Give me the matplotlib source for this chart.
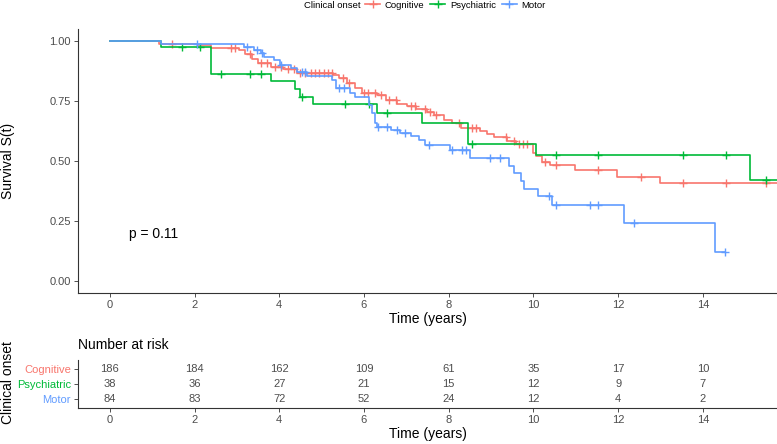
import numpy as np
import matplotlib
matplotlib.use("Agg")
import matplotlib.pyplot as plt
from matplotlib.lines import Line2D

plt.rcParams['font.family'] = ['Liberation Sans', 'DejaVu Sans']

## データ
groups = ["Cognitive", "Psychiatric", "Motor"]
colors = ["#F8766D", "#00BA38", "#619CFF"]

cog_time = [1.16, 2.07, 2.38, 3.05, 3.2, 3.35, 3.5, 3.8, 4.1, 4.43, 5.28, 5.41, 5.6,
            5.8, 5.96, 6.31, 6.51, 6.78, 7.02, 7.22, 7.49, 7.65, 7.89, 8.08, 8.28,
            8.75, 8.91, 9.06, 9.38, 9.58, 9.98, 10.07, 10.2, 10.4, 10.97, 11.97, 12.98]
cog_surv = [0.990, 0.984, 0.973, 0.963, 0.947, 0.928, 0.908, 0.894, 0.883, 0.867, 0.860,
            0.846, 0.825, 0.804, 0.786, 0.776, 0.753, 0.739, 0.728, 0.717, 0.703, 0.693,
            0.672, 0.658, 0.637, 0.626, 0.614, 0.600, 0.585, 0.572, 0.533, 0.522, 0.494,
            0.485, 0.461, 0.435, 0.407]
cog_cens = [1.46, 2.85, 2.95, 3.3, 3.56, 3.7, 3.9, 4.05, 4.2, 4.35, 4.5, 4.6, 4.75, 4.85,
            4.95, 5.05, 5.15, 5.25, 5.5, 5.65, 6.0, 6.1, 6.25, 6.4, 6.6, 6.75, 7.1, 7.2,
            7.45, 7.55, 7.7, 8.25, 8.55, 8.65, 9.35, 9.55, 9.65, 9.75, 9.85, 10.28, 10.54,
            11.52, 12.53, 13.52, 14.54, 15.5]
cog_end = 15.75

psy_time = [1.2, 2.38, 3.8, 4.37, 4.5, 4.79, 6.31, 7.37, 8.46, 10.06, 15.12]
psy_surv = [0.974, 0.865, 0.833, 0.800, 0.768, 0.740, 0.700, 0.658, 0.571, 0.523, 0.420]
psy_cens = [1.7, 2.13, 2.62, 3.32, 3.56, 4.54, 5.55, 6.13, 6.55, 8.54, 10.54, 11.52,
            13.52, 14.54, 15.5]
psy_end = 15.75

mot_time = [1.2, 3.17, 3.4, 3.56, 3.64, 3.87, 4.03, 4.27, 4.43, 4.66, 5.25, 5.33, 5.68,
            5.8, 6.12, 6.19, 6.27, 6.30, 6.63, 6.86, 7.1, 7.3, 7.45, 8.04, 8.51, 9.42,
            9.54, 9.71, 9.77, 10.12, 10.44, 12.13, 14.29]
mot_surv = [0.988, 0.977, 0.964, 0.950, 0.936, 0.922, 0.901, 0.887, 0.873, 0.857, 0.839,
            0.804, 0.783, 0.769, 0.735, 0.700, 0.658, 0.640, 0.630, 0.619, 0.605, 0.589,
            0.568, 0.547, 0.511, 0.478, 0.450, 0.415, 0.383, 0.352, 0.318, 0.239, 0.120]
mot_cens = [2.07, 3.25, 3.48, 3.6, 4.05, 4.54, 4.6, 5.41, 5.53, 6.33, 6.55, 6.78, 6.98,
            7.53, 8.07, 8.32, 8.4, 8.97, 9.2, 10.36, 10.54, 11.34, 11.52, 12.37, 14.53]
mot_end = 14.53

risk_times = [0, 2, 4, 6, 8, 10, 12, 14]
risk_cog = [186, 184, 162, 109, 61, 35, 17, 10]
risk_psy = [38, 36, 27, 21, 15, 12, 9, 7]
risk_mot = [84, 83, 72, 52, 24, 12, 4, 2]

p_text = "p = 0.11"

curves = [(cog_time, cog_surv, cog_cens, cog_end),
          (psy_time, psy_surv, psy_cens, psy_end),
          (mot_time, mot_surv, mot_cens, mot_end)]
risks = [risk_cog, risk_psy, risk_mot]

W, H = 777, 444
axis_col = "#333333"
tick_col = "#4D4D4D"
xlim = (-0.75, 15.75)

fig = plt.figure(figsize=(W / 100, H / 100), dpi=100)

## 生存曲線
ax = fig.add_axes([78 / W, 1 - 292.7 / H, 699 / W, (292.7 - 29.3) / H])
for (t, s, c, end), col in zip(curves, colors):
    xs = np.array([0] + t + [end])
    ys = np.array([1.0] + s + [s[-1]])
    ax.step(xs, ys, where="post", color=col, lw=1.2)
    idx = np.searchsorted(xs, c, side="right") - 1
    ax.plot(c, ys[idx], ls="none", marker="+", ms=6, mew=1.0, color=col)

ax.set_xlim(*xlim)
ax.set_ylim(-0.05, 1.05)
ax.set_xticks(range(0, 15, 2))
ax.set_yticks([0, 0.25, 0.5, 0.75, 1.0])
ax.set_yticklabels(["0.00", "0.25", "0.50", "0.75", "1.00"])
ax.set_xlabel("Time (years)", fontsize=10, labelpad=2)
ax.set_ylabel("Survival S(t)", fontsize=10)
ax.yaxis.set_label_coords((15 - 78) / 699, 0.5)
ax.text(0.45, 0.197, p_text, fontsize=10, ha="left", va="center")

## リスク表
tax = fig.add_axes([78 / W, 1 - 407.7 / H, 699 / W, (407.7 - 360.3) / H])
rows = [3, 2, 1]
for r, vals in zip(rows, risks):
    for t, n in zip(risk_times, vals):
        tax.text(t, r, str(n), ha="center", va="center", fontsize=8, color=tick_col)
tax.set_xlim(*xlim)
tax.set_ylim(0.42, 3.58)
tax.set_xticks(range(0, 15, 2))
tax.set_yticks(rows)
tax.set_yticklabels(groups)
tax.set_xlabel("Time (years)", fontsize=10, labelpad=2)
fig.text(78 / W, 1 - 345 / H, "Number at risk", fontsize=10, ha="left", va="center")
fig.text(8 / W, 1 - 383 / H, "Clinical onset", fontsize=10, rotation=90,
         ha="center", va="center")

for a in (ax, tax):
    a.spines["top"].set_visible(False)
    a.spines["right"].set_visible(False)
    for sp in ("left", "bottom"):
        a.spines[sp].set_color(axis_col)
        a.spines[sp].set_linewidth(0.8)
    a.tick_params(axis="both", labelsize=8, length=3, width=0.6, color=axis_col,
                  labelcolor=tick_col, pad=2)
for lab, col in zip(tax.get_yticklabels(), colors):
    lab.set_color(col)

## 凡例
fig.text(304 / W, 1 - 5 / H, "Clinical onset", fontsize=6.8, ha="left", va="center")
handles = [Line2D([], [], color=c, lw=1.2, marker="+", ms=6, mew=1.0) for c in colors]
fig.legend(handles, groups, loc="center left", bbox_to_anchor=(365 / W, 1 - 5 / H),
           ncol=3, frameon=False, fontsize=6.8, handlelength=1.6, handletextpad=0.5,
           columnspacing=0.6, borderpad=0, borderaxespad=0)

fig.savefig("out.png", dpi=100)
